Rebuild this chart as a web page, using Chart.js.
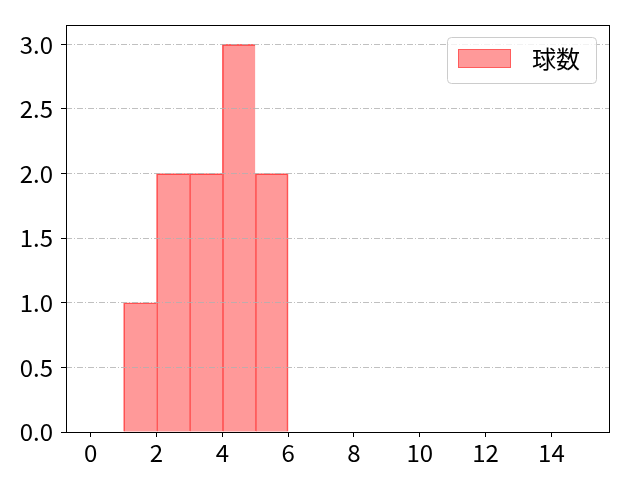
<!DOCTYPE html>
<html>
<head>
<meta charset="utf-8">
<script src="https://cdn.jsdelivr.net/npm/chart.js@4"></script>
<style>
  html, body { margin: 0; padding: 0; background: #fff; }
  #wrap { width: 640px; height: 480px; }
</style>
</head>
<body>
<div id="wrap"><canvas id="pitchChart" width="640" height="480"></canvas></div>
<script>
const ctx = document.getElementById("pitchChart");

// histogram bins (left edges) and counts
const binStarts = [1, 2, 3, 4, 5];
const counts = [1, 2, 2, 3, 2];
const seriesLabel = "球数";
const xTicks = [0, 2, 4, 6, 8, 10, 12, 14];
const yTicks = [0, 0.5, 1.0, 1.5, 2.0, 2.5, 3.0];

const FONT = "'Noto Sans CJK JP', 'DejaVu Sans', sans-serif";

// spines + legend box
const framePlugin = {
  id: "frame",
  afterDraw(chart) {
    const c = chart.ctx;
    const a = chart.chartArea;
    c.save();
    c.strokeStyle = "#000";
    c.lineWidth = 1;
    c.strokeRect(Math.round(a.left) + 0.5, Math.round(a.top) + 0.5,
      Math.round(a.right - a.left), Math.round(a.bottom - a.top));

    // legend
    const bx = 447, by = 37, bw = 149, bh = 46, r = 4;
    c.fillStyle = "rgba(255,255,255,0.8)";
    c.strokeStyle = "#cccccc";
    c.beginPath();
    c.roundRect(bx + 0.5, by + 0.5, bw, bh, r);
    c.fill();
    c.stroke();
    c.fillStyle = "rgba(255,0,0,0.4)";
    c.fillRect(458, 49, 53, 19);
    c.strokeStyle = "rgba(255,0,0,0.4)";
    c.strokeRect(458.5, 49.5, 52, 18);
    c.fillStyle = "#000";
    c.font = "24px " + FONT;
    c.textBaseline = "middle";
    c.fillText(seriesLabel, 532, 59);
    c.restore();
  },
};

new Chart(ctx, {
  type: "bar",
  data: {
    datasets: [
      {
        label: seriesLabel,
        data: binStarts.map((s, i) => ({ x: s + 0.5, y: counts[i] })),
        backgroundColor: "rgba(255, 0, 0, 0.4)",
        borderColor: "rgba(255, 0, 0, 0.6)",
        borderWidth: (c) => ({
          top: 1,
          left: 1,
          right: c.dataIndex === counts.length - 1 ? 1 : 0,
          bottom: 0,
        }),
        barPercentage: 1,
        categoryPercentage: 1,
      },
    ],
  },
  options: {
    responsive: false,
    animation: false,
    layout: { padding: { left: 0, right: 31, top: 25, bottom: 0 } },
    plugins: { legend: { display: false }, tooltip: { enabled: false } },
    scales: {
      x: {
        type: "linear",
        offset: false,
        min: -0.75,
        max: 15.75,
        afterBuildTicks: (axis) => {
          axis.ticks = xTicks.map((v) => ({ value: v }));
        },
        afterFit: (axis) => {
          axis.height = 48;
        },
        border: { display: false },
        grid: {
          offset: false,
          drawOnChartArea: false,
          drawTicks: true,
          tickLength: 5,
          tickColor: "#000",
          tickWidth: 1,
        },
        ticks: {
          color: "#000",
          font: { size: 24, family: FONT },
          padding: 1,
          maxRotation: 0,
          autoSkip: false,
        },
      },
      y: {
        min: 0,
        max: 3.15,
        afterBuildTicks: (axis) => {
          axis.ticks = yTicks.map((v) => ({ value: v }));
        },
        afterFit: (axis) => {
          axis.width = 66;
        },
        border: { display: false, dash: [6, 2, 1, 2] },
        grid: {
          z: 1,
          color: (c) => (c.tick && c.tick.value === 0 ? "transparent" : "#b0b0b0"),
          lineWidth: 0.8,
          drawTicks: true,
          tickLength: 5,
          tickColor: "#000",
          tickWidth: 1,
          tickBorderDash: [],
        },
        ticks: {
          color: "#000",
          font: { size: 24, family: FONT },
          padding: 8,
          autoSkip: false,
          callback: (v) => Number(v).toFixed(1),
        },
      },
    },
  },
  plugins: [framePlugin],
});
</script>
</body>
</html>
